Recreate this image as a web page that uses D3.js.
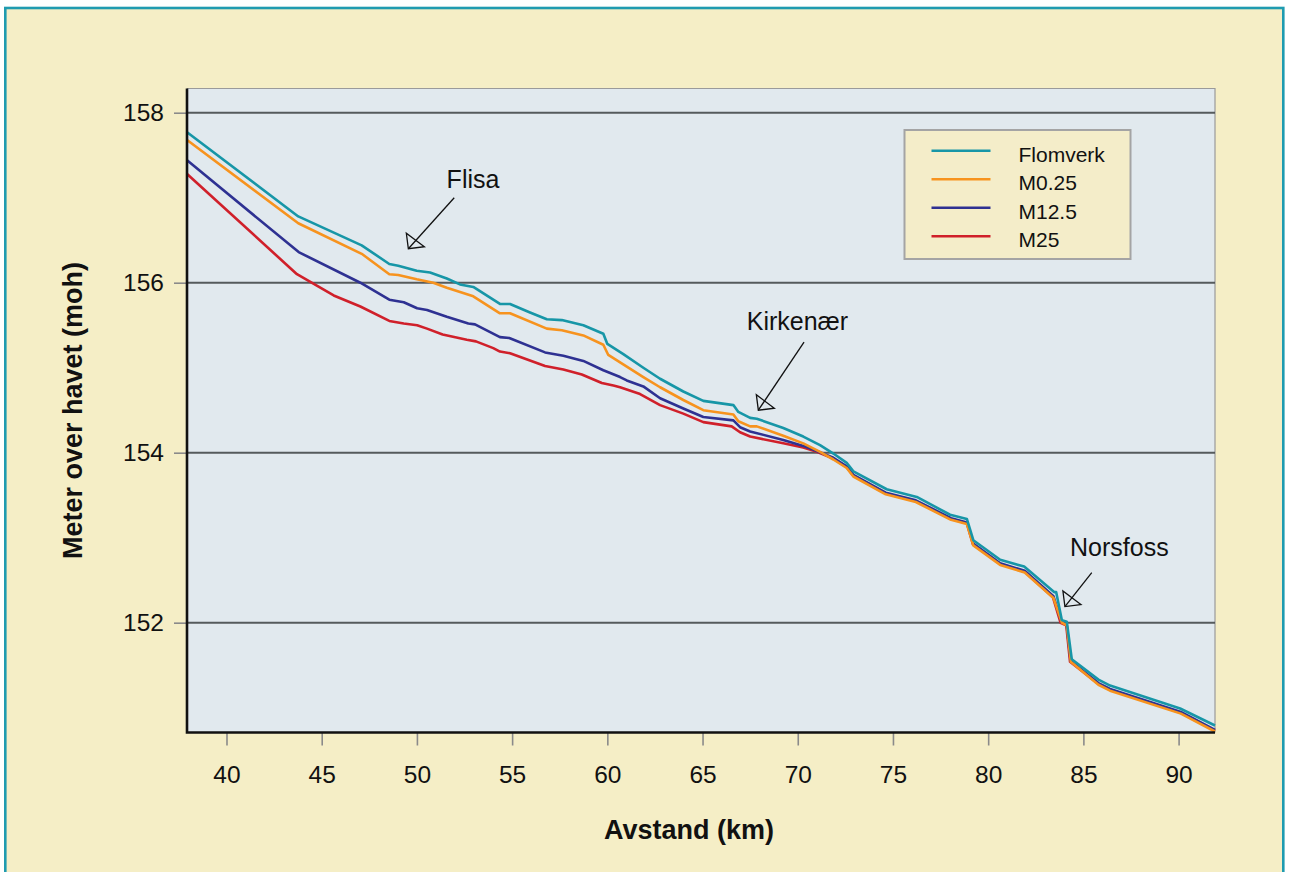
<!DOCTYPE html>
<html>
<head>
<meta charset="utf-8">
<script src="https://cdn.jsdelivr.net/npm/d3@7"></script>
<style>
  html, body { margin: 0; padding: 0; background: #ffffff; }
  svg { display: block; }
  text { font-family: "Liberation Sans", Arial, Helvetica, sans-serif; fill: #111; }
</style>
</head>
<body>
<svg id="chart" width="1289" height="872"></svg>
<script>
// Water level profiles along the river (distance in km, level in metres above sea level)
const flomverkKm = [37.93, 43.77, 47.10, 48.55, 49.02, 49.99, 50.69, 51.57, 52.26, 52.96, 54.36, 54.89, 55.94, 56.82, 57.61, 58.74, 59.79, 60.00, 60.84, 61.89, 62.77, 63.99, 65.04, 66.62, 66.88, 67.50, 67.85, 69.24, 70.29, 71.17, 71.87, 72.57, 72.92, 74.67, 76.25, 78.00, 78.88, 79.22, 80.63, 81.89, 83.46, 83.57, 83.87, 84.13, 84.39, 85.79, 86.40, 90.08, 91.91];
const flomverkM  = [157.77, 156.78, 156.44, 156.22, 156.20, 156.14, 156.12, 156.05, 155.98, 155.95, 155.75, 155.75, 155.65, 155.57, 155.56, 155.50, 155.40, 155.28, 155.16, 155.00, 154.87, 154.72, 154.61, 154.56, 154.48, 154.41, 154.40, 154.29, 154.19, 154.09, 153.99, 153.88, 153.78, 153.57, 153.48, 153.27, 153.22, 152.97, 152.74, 152.66, 152.36, 152.36, 152.03, 152.01, 151.57, 151.33, 151.26, 150.99, 150.79];

const m025Km = [37.93, 43.77, 47.10, 48.55, 49.02, 49.99, 50.86, 51.57, 52.96, 54.36, 54.89, 56.82, 57.61, 58.74, 59.79, 60.05, 61.89, 62.77, 63.99, 65.04, 66.62, 66.88, 67.50, 67.85, 69.24, 70.29, 71.17, 71.87, 72.57, 72.92, 74.62, 76.20, 78.05, 78.88, 79.22, 80.63, 81.92, 83.43, 83.87, 84.13, 84.34, 85.79, 86.40, 90.12, 91.91];
const m025M  = [157.68, 156.70, 156.34, 156.10, 156.09, 156.04, 156.00, 155.94, 155.84, 155.64, 155.64, 155.46, 155.44, 155.38, 155.27, 155.15, 154.89, 154.77, 154.62, 154.50, 154.45, 154.37, 154.31, 154.31, 154.20, 154.11, 154.01, 153.92, 153.82, 153.72, 153.51, 153.42, 153.21, 153.16, 152.91, 152.68, 152.59, 152.29, 152.00, 151.97, 151.54, 151.27, 151.20, 150.93, 150.72];

const m125Km = [37.93, 43.79, 47.03, 48.55, 49.31, 50.01, 50.53, 51.57, 52.70, 53.05, 54.36, 54.85, 56.73, 57.69, 58.74, 59.79, 60.67, 61.02, 61.89, 62.77, 63.99, 65.04, 66.62, 66.97, 67.50, 69.24, 70.29, 71.00, 71.87, 72.57, 72.92, 74.62, 76.20, 78.05, 78.88, 79.22, 80.63, 81.92, 83.43, 83.85, 84.12, 84.33, 85.79, 86.40, 90.12, 91.91];
const m125M  = [157.44, 156.36, 156.00, 155.80, 155.77, 155.70, 155.68, 155.60, 155.52, 155.51, 155.36, 155.35, 155.18, 155.14, 155.08, 154.97, 154.89, 154.85, 154.78, 154.64, 154.52, 154.42, 154.38, 154.30, 154.25, 154.15, 154.08, 154.02, 153.94, 153.84, 153.74, 153.53, 153.44, 153.23, 153.18, 152.93, 152.70, 152.61, 152.31, 152.01, 151.98, 151.55, 151.29, 151.22, 150.95, 150.74];

const m25Km = [37.93, 43.70, 45.63, 47.03, 48.55, 49.31, 50.01, 50.53, 51.35, 52.62, 53.10, 54.01, 54.36, 54.89, 56.73, 57.69, 58.66, 59.71, 60.32, 60.67, 61.72, 62.77, 63.99, 65.04, 66.53, 66.97, 67.50, 69.24, 70.29, 71.00, 71.87, 72.57, 72.92, 74.62, 76.20, 78.05, 78.88, 79.20, 80.63, 81.92, 83.40, 83.80, 84.10, 84.30, 85.79, 86.40, 90.12, 91.91];
const m25M  = [157.28, 156.10, 155.85, 155.72, 155.55, 155.52, 155.50, 155.46, 155.39, 155.33, 155.31, 155.23, 155.19, 155.17, 155.02, 154.98, 154.92, 154.82, 154.79, 154.77, 154.69, 154.56, 154.46, 154.36, 154.31, 154.24, 154.19, 154.11, 154.06, 154.01, 153.93, 153.83, 153.73, 153.52, 153.43, 153.22, 153.17, 152.92, 152.69, 152.60, 152.30, 152.00, 151.97, 151.54, 151.28, 151.21, 150.94, 150.73];

const seriesNames  = ["Flomverk", "M0.25", "M12.5", "M25"];
const seriesColors = ["#1796a7", "#f7931e", "#2e3192", "#d0202a"];

const xTicks = [40, 45, 50, 55, 60, 65, 70, 75, 80, 85, 90];
const yTicks = [152, 154, 156, 158];

// Place names with arrows: text anchor and arrow (from -> tip), in km / moh
const placeNames = ["Flisa", "Kirkenær", "Norsfoss"];
const placeTextKm = [51.56, 67.32, 84.30];
const placeTextM  = [157.12, 155.44, 152.79];
const arrowFromKm = [51.96, 70.33, 85.44];
const arrowFromM  = [157.00, 155.30, 152.59];
const arrowTipKm  = [49.55, 67.93, 84.03];
const arrowTipM   = [156.40, 154.50, 152.19];

const series = [
  { name: seriesNames[0], color: seriesColors[0], km: flomverkKm, m: flomverkM },
  { name: seriesNames[1], color: seriesColors[1], km: m025Km, m: m025M },
  { name: seriesNames[2], color: seriesColors[2], km: m125Km, m: m125M },
  { name: seriesNames[3], color: seriesColors[3], km: m25Km, m: m25M }
];

const svg = d3.select("#chart");

// Outer framed panel
svg.append("rect")
  .attr("x", 5.3).attr("y", 8)
  .attr("width", 1278).attr("height", 880)
  .attr("fill", "#f5eec6")
  .attr("stroke", "#1f9bb0")
  .attr("stroke-width", 2.6);

const plot = { left: 187, right: 1215, top: 88.5, bottom: 732.5 };

const x = d3.scaleLinear().domain([37.926, 91.912]).range([plot.left, plot.right]);
const y = d3.scaleLinear().domain([150.708, 158.285]).range([plot.bottom, plot.top]);

// Plot background
svg.append("rect")
  .attr("x", plot.left).attr("y", plot.top)
  .attr("width", plot.right - plot.left).attr("height", plot.bottom - plot.top)
  .attr("fill", "#e1e9ee");

// Top and right frame of plot area
svg.append("path")
  .attr("d", `M${plot.left},${plot.top}H${plot.right}V${plot.bottom}`)
  .attr("fill", "none").attr("stroke", "#9a9a9a").attr("stroke-width", 1.2);

// Horizontal gridlines
svg.append("g").selectAll("line").data(yTicks).join("line")
  .attr("x1", plot.left).attr("x2", plot.right)
  .attr("y1", d => y(d)).attr("y2", d => y(d))
  .attr("stroke", "#555a5c").attr("stroke-width", 2);

// Y axis
const yAxis = svg.append("g")
  .attr("transform", `translate(${plot.left},0)`)
  .call(d3.axisLeft(y).tickValues(yTicks).tickSize(13).tickPadding(10).tickFormat(d3.format("d")));
yAxis.select(".domain").remove();
yAxis.selectAll(".tick line").attr("stroke", "#8a8a8a").attr("stroke-width", 1.6);
yAxis.selectAll(".tick text").attr("font-size", 24.5).attr("fill", "#111")
  .attr("font-family", "Liberation Sans, Arial, sans-serif");

// X axis
const xAxis = svg.append("g")
  .attr("transform", `translate(0,${plot.bottom})`)
  .call(d3.axisBottom(x).tickValues(xTicks).tickSize(13).tickPadding(20).tickFormat(d3.format("d")));
xAxis.select(".domain").remove();
xAxis.selectAll(".tick line").attr("stroke", "#8a8a8a").attr("stroke-width", 1.6);
xAxis.selectAll(".tick text").attr("font-size", 24.5).attr("fill", "#111")
  .attr("font-family", "Liberation Sans, Arial, sans-serif");

// Series lines (drawn so the highest level ends up on top)
const line = d3.line().x(d => x(d[0])).y(d => y(d[1]));
const drawOrder = [3, 2, 1, 0];
svg.append("g").selectAll("path").data(drawOrder.map(i => series[i])).join("path")
  .attr("d", s => line(s.km.map((k, i) => [k, s.m[i]])))
  .attr("fill", "none")
  .attr("stroke", s => s.color)
  .attr("stroke-width", 2.6)
  .attr("stroke-linejoin", "round");

// Left and bottom axis lines
svg.append("path")
  .attr("d", `M${plot.left},${plot.top}V${plot.bottom}H${plot.right}`)
  .attr("fill", "none").attr("stroke", "#111").attr("stroke-width", 2.6);

// Place annotations
const ann = svg.append("g");
placeNames.forEach((name, i) => {
  ann.append("text")
    .attr("x", x(placeTextKm[i])).attr("y", y(placeTextM[i]))
    .attr("font-size", 25).text(name);
  const tx = x(arrowTipKm[i]), ty = y(arrowTipM[i]);
  ann.append("line")
    .attr("x1", x(arrowFromKm[i])).attr("y1", y(arrowFromM[i]))
    .attr("x2", tx).attr("y2", ty)
    .attr("stroke", "#111").attr("stroke-width", 1.3);
  ann.append("path")
    .attr("d", `M${tx},${ty}L${tx - 2},${ty - 15.5}L${tx + 16},${ty - 2}Z`)
    .attr("fill", "none").attr("stroke", "#111").attr("stroke-width", 1.3)
    .attr("stroke-linejoin", "miter");
});

// Legend
const legend = svg.append("g").attr("transform", "translate(904.5,130)");
legend.append("rect")
  .attr("width", 226).attr("height", 129)
  .attr("fill", "#f4edc9").attr("stroke", "#a4a4a4").attr("stroke-width", 2);
series.forEach((s, i) => {
  const ly = 20.7 + i * 28.5;
  legend.append("line")
    .attr("x1", 27).attr("x2", 86).attr("y1", ly).attr("y2", ly)
    .attr("stroke", s.color).attr("stroke-width", 2.6);
  legend.append("text")
    .attr("x", 114).attr("y", ly + 11)
    .attr("font-size", 21).text(s.name);
});

// Axis titles
svg.append("text")
  .attr("x", 689).attr("y", 839)
  .attr("text-anchor", "middle")
  .attr("font-size", 27).attr("font-weight", "bold").attr("fill", "#231f20")
  .text("Avstand (km)");

svg.append("text")
  .attr("transform", `translate(82,${(plot.top + plot.bottom) / 2}) rotate(-90)`)
  .attr("text-anchor", "middle")
  .attr("font-size", 27).attr("font-weight", "bold").attr("fill", "#231f20")
  .text("Meter over havet (moh)");
</script>
</body>
</html>
